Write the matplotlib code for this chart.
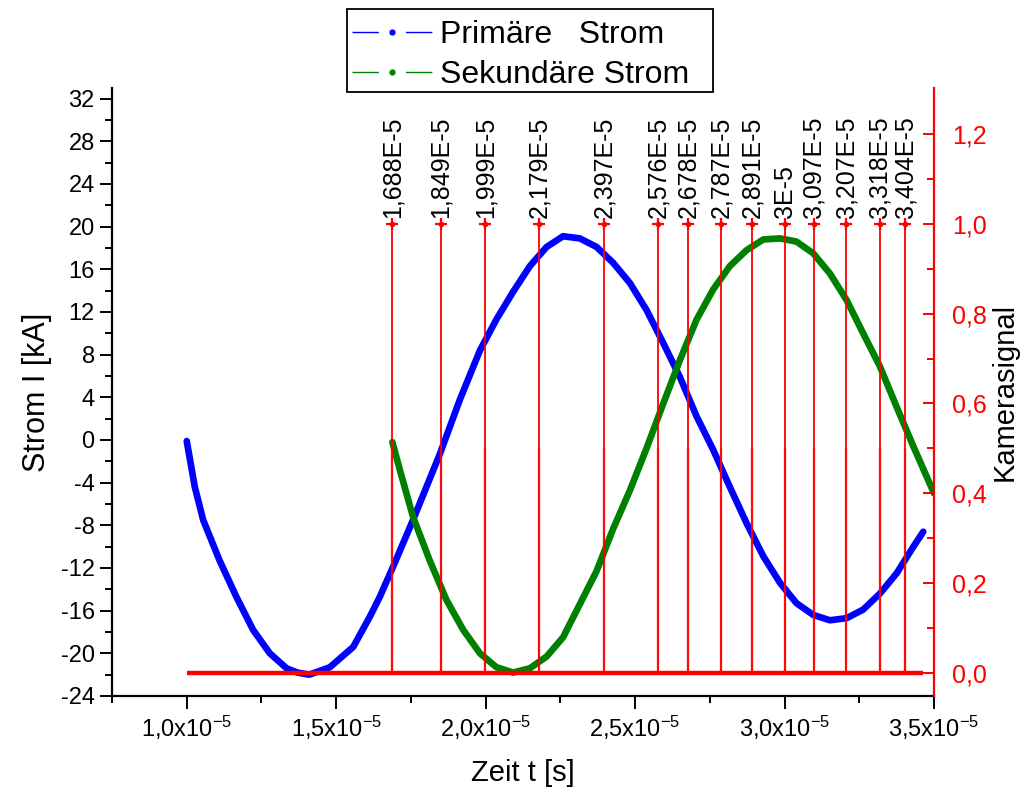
import matplotlib
matplotlib.use("Agg")
import matplotlib.pyplot as plt
from matplotlib import font_manager
from matplotlib.lines import Line2D
from matplotlib.patches import Rectangle
from matplotlib.ticker import MultipleLocator, FuncFormatter, FixedLocator

# Primary current: time in units of 1e-5 s, current in kA
t_primary = [1.000, 1.027, 1.055, 1.110, 1.166, 1.222, 1.278, 1.334, 1.370,
             1.410, 1.479, 1.557, 1.612, 1.646, 1.690, 1.757, 1.847, 1.914,
             1.981, 2.036, 2.092, 2.148, 2.204, 2.259, 2.315, 2.371, 2.427,
             2.483, 2.538, 2.594, 2.650, 2.706, 2.761, 2.817, 2.873, 2.929,
             2.985, 3.040, 3.096, 3.152, 3.208, 3.263, 3.319, 3.375, 3.431,
             3.464]
i_primary = [-0.1, -4.4, -7.5, -11.3, -14.7, -17.8, -20.0, -21.4, -21.8,
             -22.0, -21.3, -19.4, -16.6, -14.7, -11.9, -7.5, -1.3, 3.8,
             8.4, 11.3, 13.9, 16.3, 18.1, 19.1, 18.9, 18.1, 16.6,
             14.7, 12.2, 9.1, 5.9, 2.2, -0.9, -4.4, -7.8, -10.9,
             -13.4, -15.3, -16.4, -16.9, -16.7, -15.9, -14.4, -12.5, -10.0,
             -8.6]

# Secondary current
t_secondary = [1.688, 1.713, 1.757, 1.813, 1.869, 1.925, 1.981, 2.036, 2.092,
               2.148, 2.204, 2.259, 2.315, 2.371, 2.427, 2.483, 2.538, 2.594,
               2.650, 2.706, 2.761, 2.817, 2.873, 2.929, 2.985, 3.040, 3.096,
               3.152, 3.208, 3.263, 3.319, 3.375, 3.431, 3.500]
i_secondary = [-0.2, -2.8, -7.2, -11.3, -15.0, -17.8, -20.0, -21.3, -21.8,
               -21.4, -20.3, -18.5, -15.4, -12.3, -8.3, -4.7, -0.8, 3.4,
               7.5, 11.3, 14.1, 16.3, 17.8, 18.8, 18.9, 18.6, 17.5,
               15.6, 13.1, 10.0, 6.9, 3.1, -0.6, -5.0]

# Camera trigger: frame times (1e-5 s) and signal levels
frame_times = [1.688, 1.849, 1.999, 2.179, 2.397, 2.576, 2.678, 2.787,
               2.891, 3.0, 3.097, 3.207, 3.318, 3.404]
camera_high = 1.0
camera_low = 0.0
camera_span = [1.0, 3.464]

SCALE = 1e-5
BLUE = "#0000FF"
GREEN = "#008000"
RED = "#FF0000"

available = {f.name for f in font_manager.fontManager.ttflist}
MAIN_FONT = "Liberation Sans" if "Liberation Sans" in available else "DejaVu Sans"
NARROW_FONT = "Liberation Sans Narrow" if "Liberation Sans Narrow" in available else MAIN_FONT

plt.rcParams["font.family"] = [MAIN_FONT, "DejaVu Sans"]
plt.rcParams["axes.unicode_minus"] = False
plt.rcParams["mathtext.fontset"] = "custom"
plt.rcParams["mathtext.rm"] = NARROW_FONT
plt.rcParams["mathtext.it"] = NARROW_FONT
plt.rcParams["mathtext.bf"] = NARROW_FONT
plt.rcParams["mathtext.default"] = "rm"

fig = plt.figure(figsize=(10.28, 7.96), dpi=100)
W, H = 1028, 796
x0, x1, ytop, ybot = 112, 934, 88, 696
ax = fig.add_axes([x0 / W, 1 - ybot / H, (x1 - x0) / W, (ybot - ytop) / H])
ax2 = ax.twinx()

# currents
ax.plot([t * SCALE for t in t_primary], i_primary, color=BLUE, lw=4.8,
        solid_capstyle="round", solid_joinstyle="round")
ax.plot([t * SCALE for t in t_secondary], i_secondary, color=GREEN, lw=4.8,
        solid_capstyle="round", solid_joinstyle="round")

ax.set_xlim(0.75 * SCALE, 3.5 * SCALE)
ax.set_ylim(-24, 33)

ax.yaxis.set_major_locator(FixedLocator(list(range(-24, 33, 4))))
ax.yaxis.set_minor_locator(FixedLocator(list(range(-22, 33, 4))))
ax.xaxis.set_major_locator(MultipleLocator(0.5 * SCALE))
ax.xaxis.set_minor_locator(MultipleLocator(0.25 * SCALE))


def time_label(v, pos):
    m = v / SCALE
    if m < 0.99:
        return ""
    return ("%.1f" % m).replace(".", ",") + r"x10$^{-5}$"


ax.xaxis.set_major_formatter(FuncFormatter(time_label))

ax.tick_params(axis="both", which="major", direction="out", length=9, width=1.4,
               labelsize=17, color="black")
ax.tick_params(axis="both", which="minor", direction="out", length=5, width=1.4)
ax.tick_params(axis="x", labelsize=17, pad=4)
for lab in ax.get_xticklabels():
    lab.set_fontfamily(NARROW_FONT)

for side in ("top", "right"):
    ax.spines[side].set_visible(False)
for side in ("left", "bottom"):
    ax.spines[side].set_linewidth(1.6)

ax.set_xlabel("Zeit t [s]", fontsize=21, labelpad=12)
ax.set_ylabel("Strom I [kA]", fontsize=22, labelpad=6)

# camera signal on the secondary axis
ax2.set_ylim(-0.051, 1.302)
ax2.plot([camera_span[0] * SCALE, camera_span[1] * SCALE], [camera_low, camera_low],
         color=RED, lw=3.2, solid_capstyle="butt")
ft = [t * SCALE for t in frame_times]
ax2.vlines(ft, camera_low, camera_high, color=RED, lw=1.3)
ax2.vlines(ft, camera_low, 0.5 * camera_high, color=RED, lw=1.7, alpha=0.6)
ax2.plot(ft, [camera_high] * len(ft), linestyle="none", marker="+",
         markersize=9, mew=1.6, color=RED)
ax2.plot(ft, [camera_high] * len(ft), linestyle="none", marker="o",
         markersize=3, color=RED)


def frame_label(v):
    return ("%g" % v).replace(".", ",") + "E-5"


for t in frame_times:
    ax2.text(t * SCALE, camera_high + 0.013, frame_label(t), rotation=90,
             ha="center", va="bottom", fontsize=18, color="black")

ax2.yaxis.set_major_locator(FixedLocator([0.0, 0.2, 0.4, 0.6, 0.8, 1.0, 1.2]))
ax2.yaxis.set_minor_locator(FixedLocator([0.1, 0.3, 0.5, 0.7, 0.9, 1.1]))
ax2.yaxis.set_major_formatter(FuncFormatter(lambda v, p: ("%.1f" % v).replace(".", ",")))
ax2.tick_params(axis="y", which="major", direction="in", length=8, width=1.4,
                colors=RED, labelsize=18, pad=13)
ax2.tick_params(axis="y", which="minor", direction="in", length=5, width=1.4,
                colors=RED)
for side in ("top", "left", "bottom"):
    ax2.spines[side].set_visible(False)
ax2.spines["right"].set_color(RED)
ax2.spines["right"].set_linewidth(1.6)
ax2.set_ylabel("Kamerasignal", fontsize=21, labelpad=3, color="black")

# legend frame and line-dot-line handles
fig.add_artist(Rectangle((347 / W, 1 - 92 / H), 366 / W, 83 / H,
                         transform=fig.transFigure, facecolor="white",
                         edgecolor="black", linewidth=1.3, zorder=4))


def legend_handle(color):
    dash = Line2D([], [], color=color, lw=1.0, dashes=(19, 19.5))
    dot = Line2D([], [], color=color, linestyle="none", marker="o", markersize=3.5)
    return (dash, dot)


leg = fig.legend([legend_handle(BLUE), legend_handle(GREEN)],
                 ["Primäre   Strom", "Sekundäre Strom"],
                 loc="upper left", bbox_to_anchor=(352 / W, 1 - 20 / H),
                 borderaxespad=0, borderpad=0, fontsize=23,
                 handlelength=2.5, handletextpad=0.25,
                 labelspacing=0.32, frameon=False, numpoints=1)
leg.set_zorder(5)

fig.savefig("out.png", dpi=100)
